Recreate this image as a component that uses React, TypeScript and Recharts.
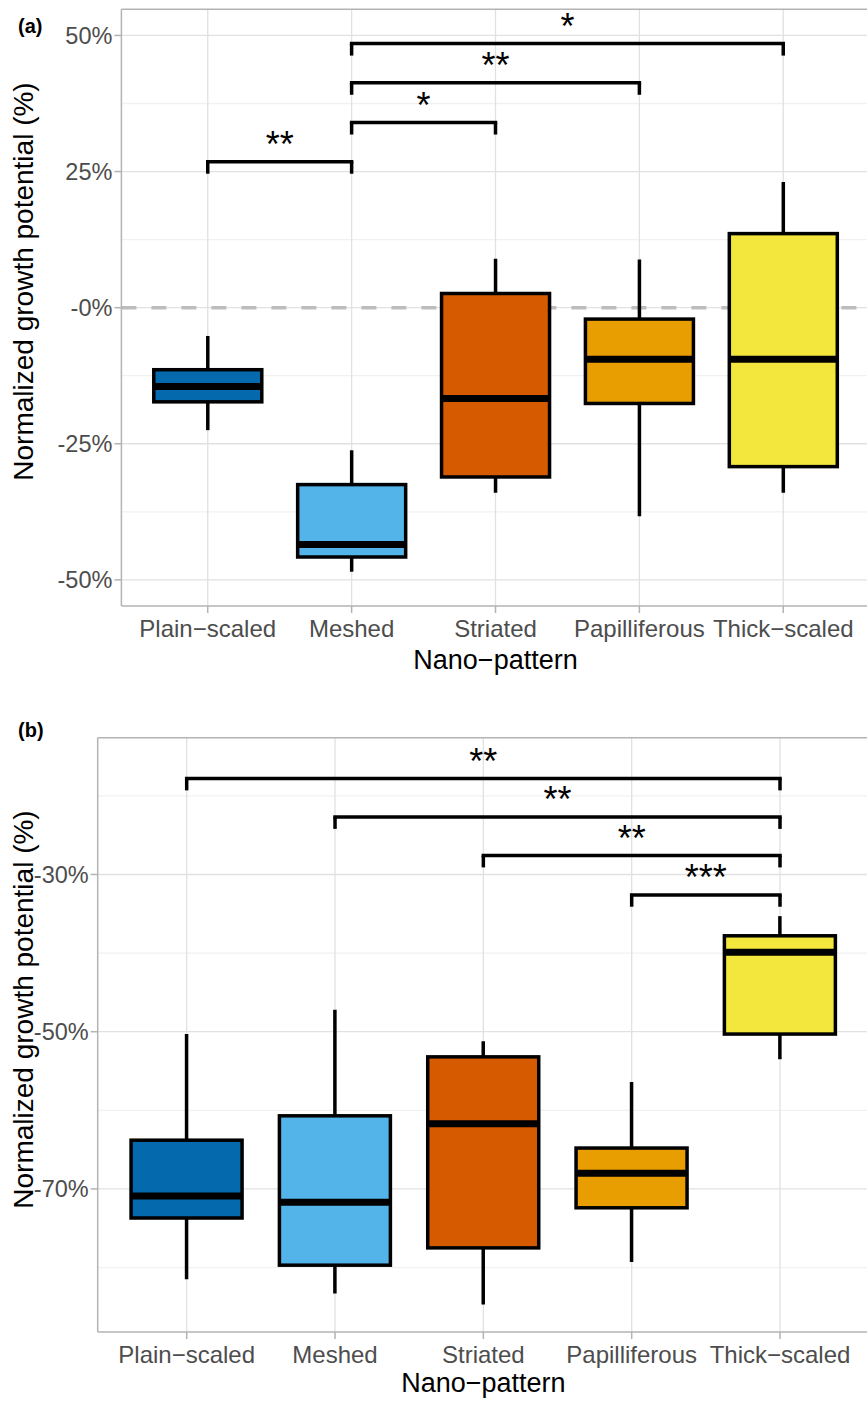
import React from 'react';
import { ComposedChart, Bar, XAxis, YAxis, CartesianGrid, ReferenceLine } from 'recharts';

const FONT = '"Liberation Sans", Arial, Helvetica, sans-serif';

// Shared categories and colours
const categories = ['Plain−scaled', 'Meshed', 'Striated', 'Papilliferous', 'Thick−scaled'];
const boxColors = ['#0469ad', '#52b4e9', '#d55a00', '#e89d00', '#f3e63c'];

// Panel (a) box statistics (% normalized growth potential)
const lowA = [-22.5, -48.5, -34.0, -38.3, -34.0];
const q1A = [-17.3, -45.8, -31.1, -17.6, -29.2];
const medA = [-14.5, -43.5, -16.7, -9.5, -9.5];
const q3A = [-11.4, -32.5, 2.6, -2.1, 13.6];
const highA = [-5.2, -26.2, 9.0, 8.85, 23.1];
const yTicksA = [-50, -25, 0, 25, 50];
const yTickLabelsA = ['-50%', '-25%', '-0%', '25%', '50%'];
const yMinorA = [-37.5, -12.5, 12.5, 37.5];
const yDomainA = [-54.8, 54.8];
const refLineA = [0];
const sigFromA = ['Plain−scaled', 'Meshed', 'Meshed', 'Meshed'];
const sigToA = ['Meshed', 'Striated', 'Papilliferous', 'Thick−scaled'];
const sigYA = [26.8, 34.0, 41.3, 48.5];
const sigLabelA = ['**', '*', '**', '*'];

// Panel (b) box statistics
const lowB = [-81.5, -83.3, -84.7, -79.3, -53.5];
const q1B = [-73.7, -79.7, -77.5, -72.4, -50.3];
const medB = [-70.9, -71.7, -61.7, -68.0, -39.9];
const q3B = [-63.8, -60.7, -53.2, -64.8, -37.8];
const highB = [-50.3, -47.2, -51.2, -56.4, -35.3];
const yTicksB = [-70, -50, -30];
const yTickLabelsB = ['-70%', '-50%', '-30%'];
const yMinorB = [-80, -60, -40, -20];
const yDomainB = [-88.2, -12.6];
const refLineB: number[] = [];
const sigFromB = ['Plain−scaled', 'Meshed', 'Striated', 'Papilliferous'];
const sigToB = ['Thick−scaled', 'Thick−scaled', 'Thick−scaled', 'Thick−scaled'];
const sigYB = [-17.8, -22.7, -27.6, -32.6];
const sigLabelB = ['**', '**', '**', '***'];

function buildRows(low: number[], q1: number[], med: number[], q3: number[], high: number[]) {
  return categories.map((name, i) => ({
    name,
    low: low[i],
    q1: q1[i],
    med: med[i],
    q3: q3[i],
    high: high[i],
    range: [low[i], high[i]],
  }));
}

const dataA = buildRows(lowA, q1A, medA, q3A, highA);
const dataB = buildRows(lowB, q1B, medB, q3B, highB);

function BoxShape(props: any) {
  const { x, y, width, height, payload, index } = props;
  if (payload == null) return null;
  const top = Math.min(y, y + height);
  const bottom = Math.max(y, y + height);
  const span = payload.high - payload.low;
  const toPx = (v: number) => top + ((payload.high - v) / span) * (bottom - top);
  const cx = x + width / 2;
  const yQ3 = toPx(payload.q3);
  const yQ1 = toPx(payload.q1);
  const yMed = toPx(payload.med);
  return (
    <g>
      <line x1={cx} x2={cx} y1={top} y2={bottom} stroke="#000" strokeWidth={3.5} />
      <rect x={x} y={yQ3} width={width} height={yQ1 - yQ3} fill={boxColors[index]} stroke="#000" strokeWidth={3.5} />
      <line x1={x} x2={x + width} y1={yMed} y2={yMed} stroke="#000" strokeWidth={7} />
    </g>
  );
}

type PanelProps = {
  data: any[];
  domain: number[];
  ticks: number[];
  tickLabels: string[];
  minor: number[];
  refLine: number[];
  sigFrom: string[];
  sigTo: string[];
  sigY: number[];
  sigLabel: string[];
  drop: number;
  width: number;
  height: number;
  marginTop: number;
  marginRight: number;
  yAxisWidth: number;
  xAxisHeight: number;
  xPad: number;
};

function Panel(p: PanelProps) {
  const brackets: any[] = [];
  p.sigY.forEach((yv, i) => {
    brackets.push(
      <ReferenceLine
        key={`h${i}`}
        segment={[{ x: p.sigFrom[i], y: yv }, { x: p.sigTo[i], y: yv }]}
        stroke="#000"
        strokeWidth={3.5}
        strokeLinecap="square"
        label={{ value: p.sigLabel[i], position: 'top', offset: 5, fontSize: 36, fill: '#000', fontFamily: FONT }}
      />
    );
    brackets.push(
      <ReferenceLine
        key={`l${i}`}
        segment={[{ x: p.sigFrom[i], y: yv }, { x: p.sigFrom[i], y: yv - p.drop }]}
        stroke="#000"
        strokeWidth={3.5}
      />
    );
    brackets.push(
      <ReferenceLine
        key={`r${i}`}
        segment={[{ x: p.sigTo[i], y: yv }, { x: p.sigTo[i], y: yv - p.drop }]}
        stroke="#000"
        strokeWidth={3.5}
      />
    );
  });
  const hasRef = p.refLine.length > 0;
  return (
    <ComposedChart
      width={p.width}
      height={p.height}
      data={p.data}
      margin={{ top: p.marginTop, right: p.marginRight, bottom: 0, left: 0 }}
      barCategoryGap="12.5%"
      style={{ fontFamily: FONT }}
    >
      <CartesianGrid yAxisId="minor" vertical={false} syncWithTicks stroke="#f1f1f1" strokeWidth={1.3} />
      <CartesianGrid syncWithTicks stroke="#e1e1e1" strokeWidth={1.3} />
      {hasRef ? (
        <CartesianGrid
          yAxisId="ref"
          vertical={false}
          syncWithTicks
          stroke="#bdbdbd"
          strokeWidth={3.5}
          strokeDasharray="15 15"
        />
      ) : null}
      <XAxis
        dataKey="name"
        type="category"
        interval={0}
        height={p.xAxisHeight}
        padding={{ left: p.xPad, right: p.xPad }}
        axisLine={{ stroke: '#b3b3b3', strokeWidth: 1.5 }}
        tickLine={{ stroke: '#b3b3b3', strokeWidth: 1.5 }}
        tickSize={7}
        tickMargin={7}
        tick={{ fontSize: 24, fill: '#4d4d4d', fontFamily: FONT }}
      />
      <YAxis
        type="number"
        domain={p.domain}
        ticks={p.ticks}
        allowDataOverflow
        width={p.yAxisWidth}
        tickFormatter={(v: number) => p.tickLabels[p.ticks.indexOf(v)]}
        axisLine={{ stroke: '#b3b3b3', strokeWidth: 1.5 }}
        tickLine={{ stroke: '#b3b3b3', strokeWidth: 1.5 }}
        tickSize={7}
        tickMargin={2}
        tick={{ fontSize: 23.5, fill: '#4d4d4d', fontFamily: FONT }}
      />
      <YAxis yAxisId="minor" type="number" hide domain={p.domain} ticks={p.minor} allowDataOverflow />
      {hasRef ? (
        <YAxis yAxisId="ref" type="number" hide domain={p.domain} ticks={p.refLine} allowDataOverflow />
      ) : null}
      <Bar dataKey="range" isAnimationActive={false} shape={<BoxShape />} />
      {brackets}
      <ReferenceLine y={p.domain[1]} stroke="#b3b3b3" strokeWidth={1.5} />
    </ComposedChart>
  );
}

export default function App() {
  return (
    <div style={{ position: 'absolute', left: 0, top: 0, width: 867, height: 1401, overflow: 'hidden', background: '#fff' }}>
      <div style={{ position: 'absolute', left: 0, top: 0 }}>
        <Panel
          data={dataA}
          domain={yDomainA}
          ticks={yTicksA}
          tickLabels={yTickLabelsA}
          minor={yMinorA}
          refLine={refLineA}
          sigFrom={sigFromA}
          sigTo={sigToA}
          sigY={sigYA}
          sigLabel={sigLabelA}
          drop={2.2}
          width={880}
          height={690}
          marginTop={9.3}
          marginRight={10.4}
          yAxisWidth={121.4}
          xAxisHeight={84}
          xPad={14.4}
        />
      </div>
      <div style={{ position: 'absolute', left: 0, top: 690 }}>
        <Panel
          data={dataB}
          domain={yDomainB}
          ticks={yTicksB}
          tickLabels={yTickLabelsB}
          minor={yMinorB}
          refLine={refLineB}
          sigFrom={sigFromB}
          sigTo={sigToB}
          sigY={sigYB}
          sigLabel={sigLabelB}
          drop={1.5}
          width={880}
          height={711}
          marginTop={47.7}
          marginRight={11}
          yAxisWidth={97.7}
          xAxisHeight={69}
          xPad={14.83}
        />
      </div>
      <svg
        width={867}
        height={1401}
        style={{ position: 'absolute', left: 0, top: 0, pointerEvents: 'none', fontFamily: FONT }}
      >
        <text x={18} y={33} fontSize={20} fontWeight="bold" fill="#000">(a)</text>
        <text x={18} y={736.5} fontSize={20} fontWeight="bold" fill="#000">(b)</text>
        <text x={33} y={281.5} fontSize={28} fill="#000" textAnchor="middle" transform="rotate(-90 33 281.5)">
          Normalized growth potential (%)
        </text>
        <text x={33} y={1009.5} fontSize={28} fill="#000" textAnchor="middle" transform="rotate(-90 33 1009.5)">
          Normalized growth potential (%)
        </text>
        <text x={495.5} y={669} fontSize={27} fill="#000" textAnchor="middle">Nano−pattern</text>
        <text x={483.4} y={1392} fontSize={27} fill="#000" textAnchor="middle">Nano−pattern</text>
      </svg>
    </div>
  );
}
